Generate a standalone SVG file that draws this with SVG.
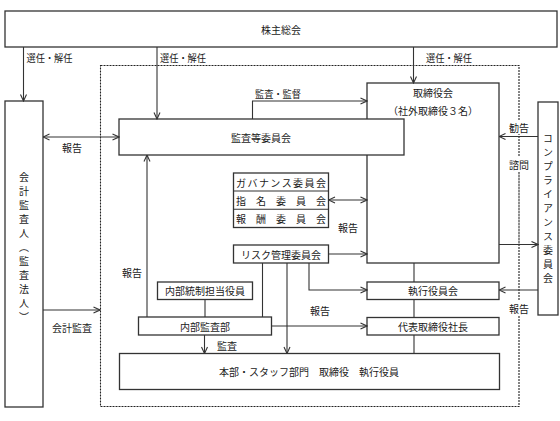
<svg xmlns="http://www.w3.org/2000/svg" width="560" height="421" viewBox="0 0 560 421">
<style>
.box{fill:#fff;stroke:#333;stroke-width:1.3}
.ln{fill:none;stroke:#333;stroke-width:1.1}
.thin{fill:none;stroke:#999;stroke-width:1}
.dash{fill:none;stroke:#222;stroke-width:1.1;stroke-dasharray:2 1}
.bg{fill:#fff}
text{font-family:"Noto Sans CJK JP","Noto Sans",sans-serif;font-size:10px;fill:#1a1a1a;text-anchor:middle;dominant-baseline:central}
.vt{writing-mode:vertical-rl;letter-spacing:4px}
</style>
<defs>
<marker id="ah" viewBox="0 0 8 8" refX="7.5" refY="4" markerWidth="8" markerHeight="8" markerUnits="userSpaceOnUse" orient="auto-start-reverse">
<path d="M1,1 L7.5,4 L1,7" fill="none" stroke="#333" stroke-width="1.1"/>
</marker>
</defs>
<rect width="560" height="421" fill="#fff"/>
<rect id="boundary" class="dash" x="100.5" y="65.5" width="418.5" height="341"/>

<g id="shareholders"><rect class="box" x="5" y="11" width="552" height="36"/><text x="281" y="29">株主総会</text></g>
<g id="auditor"><rect class="box" x="5" y="101" width="38" height="306"/><text class="vt" x="24" y="249">会計監査人（監査法人）</text></g>
<g id="board"><rect class="box" x="367" y="83" width="132" height="180"/><text x="433" y="92">取締役会</text><text x="433" y="110">（社外取締役３名）</text></g>
<g id="auditCommittee"><rect class="box" x="119" y="119" width="285" height="36"/><text x="261" y="137">監査等委員会</text></g>
<g id="committees"><rect class="box" x="233.5" y="173" width="95" height="54.5"/>
<path class="ln" d="M233.5,191H328.5M233.5,209.3H328.5"/>
<text x="281" y="182" textLength="90" lengthAdjust="spacing">ガバナンス委員会</text>
<text x="281" y="200" textLength="90" lengthAdjust="spacing">指名委員会</text>
<text x="281" y="218.5" textLength="90" lengthAdjust="spacing">報酬委員会</text></g>
<g id="risk"><rect class="box" x="233.5" y="245" width="95" height="18"/><text x="281" y="254">リスク管理委員会</text></g>
<g id="icOfficer"><rect class="box" x="157.5" y="282" width="95" height="17.5"/><text x="205" y="290.5">内部統制担当役員</text></g>
<g id="internalAudit"><rect class="box" x="138.5" y="317" width="133" height="18"/><text x="205" y="326">内部監査部</text></g>
<g id="execOfficers"><rect class="box" x="367" y="282" width="132" height="17.5"/><text x="433" y="290.5">執行役員会</text></g>
<g id="president"><rect class="box" x="367" y="317.5" width="132" height="17.5"/><text x="433" y="326">代表取締役社長</text></g>
<g id="hq"><rect class="box" x="119.5" y="353.5" width="380" height="36"/><text x="309" y="371">本部・スタッフ部門　取締役　執行役員</text></g>
<g id="compliance"><rect class="box" x="538" y="102" width="20" height="213"/><text class="vt" x="548" y="210">コンプライアンス委員会</text></g>

<g id="connectors">
<path class="ln" marker-end="url(#ah)" d="M23.5,47V101"/>
<path class="ln" marker-end="url(#ah)" d="M157,47V119"/>
<path class="ln" marker-end="url(#ah)" d="M413.5,47V83"/>
<path class="ln" marker-end="url(#ah)" d="M252.5,119V101H367"/>
<path class="ln" marker-start="url(#ah)" marker-end="url(#ah)" d="M43,137H119"/>
<path class="ln" marker-end="url(#ah)" d="M147,317V155"/>
<path class="ln" marker-start="url(#ah)" marker-end="url(#ah)" d="M328.5,200H367"/>
<path class="ln" marker-end="url(#ah)" d="M328.5,254H367"/>
<path class="ln" d="M262.5,263V317"/>
<path class="ln" marker-end="url(#ah)" d="M287,263V353.5"/>
<path class="ln" marker-end="url(#ah)" d="M309,263V290H367"/>
<path class="ln" d="M205,299.5V317"/>
<path class="ln" marker-end="url(#ah)" d="M204.5,335V353.5"/>
<path class="ln" marker-end="url(#ah)" d="M271.5,326H367"/>
<path class="ln" d="M414,263V282M414,299.5V317.5M414,335V353.5"/>
<path class="ln" marker-end="url(#ah)" d="M538,136.5H499"/>
<path class="ln" marker-end="url(#ah)" d="M499,244.5H538"/>
<path class="ln" marker-end="url(#ah)" d="M538,290H499"/>
<path class="ln" marker-end="url(#ah)" d="M43,310H100"/>
<path class="thin" d="M519,173V244"/>
</g>

<g id="labels">
<text x="49.5" y="57" textLength="46" lengthAdjust="spacingAndGlyphs">選任・解任</text>
<text x="183" y="57" textLength="46" lengthAdjust="spacingAndGlyphs">選任・解任</text>
<text x="449" y="57" textLength="46" lengthAdjust="spacingAndGlyphs">選任・解任</text>
<text x="278" y="93" textLength="46" lengthAdjust="spacingAndGlyphs">監査・監督</text>
<text x="72" y="147">報告</text>
<text x="348" y="227">報告</text>
<text x="132" y="272">報告</text>
<text x="320" y="310">報告</text>
<text x="227" y="345">監査</text>
<text x="72" y="327">会計監査</text>
<rect class="bg" x="508" y="120" width="22" height="14"/>
<text x="519" y="127">勧告</text>
<rect class="bg" x="508" y="156" width="22" height="15"/>
<text x="519" y="164">諮問</text>
<rect class="bg" x="508" y="301" width="22" height="15"/>
<text x="519" y="308">報告</text>
</g>
</svg>
